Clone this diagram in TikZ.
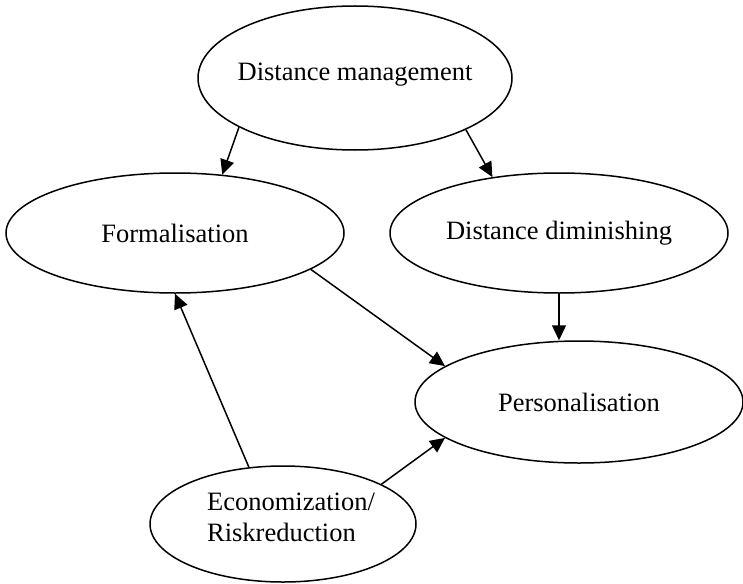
\documentclass[tikz,border=0pt]{standalone}
\usepackage{fontspec}
\setmainfont{Liberation Serif}
\usetikzlibrary{shapes.geometric,arrows.meta}
\begin{document}
\begin{tikzpicture}[x=1pt,y=-1pt,
  concept/.style={draw, ellipse, line width=1.5pt, inner sep=0pt,
    font=\fontsize{26.5}{31}\selectfont},
  link/.style={line width=1.5pt, -{Triangle[length=15pt,width=14pt]}}]
\useasboundingbox (0,0) rectangle (743,583);

% concepts
\node[concept, minimum width=314pt, minimum height=144pt,
      label={[yshift=3pt, font=\fontsize{26.5}{31}\selectfont]center:Distance management}] (dm) at (355,78) {};
\node[concept, minimum width=338pt, minimum height=120pt] (form) at (175,233) {Formalisation};
\node[concept, minimum width=338pt, minimum height=120pt] (dd)   at (559,233) {Distance diminishing};
\node[concept, minimum width=328pt, minimum height=122pt] (pers) at (579,402) {Personalisation};
\node[concept, minimum width=266pt, minimum height=116pt,
      label={[xshift=8pt, yshift=7pt, align=left, font=\fontsize{26.5}{31}\selectfont]center:Economization/\\Riskreduction}] (econ) at (283,524) {};

% influences
\draw[link] (dm.203.8) -- (form.51.3);
\draw[link] (dm.335.8) -- (dd.140.2);
\draw[link] (form.345.5) -- (pers.165);
\draw[link] (dd.south) -- (dd.south |- pers.north);
\draw[link] (econ.121.2) -- (form.south);
\draw[link] (econ.22.3) -- (pers.195.8);
\end{tikzpicture}
\end{document}
